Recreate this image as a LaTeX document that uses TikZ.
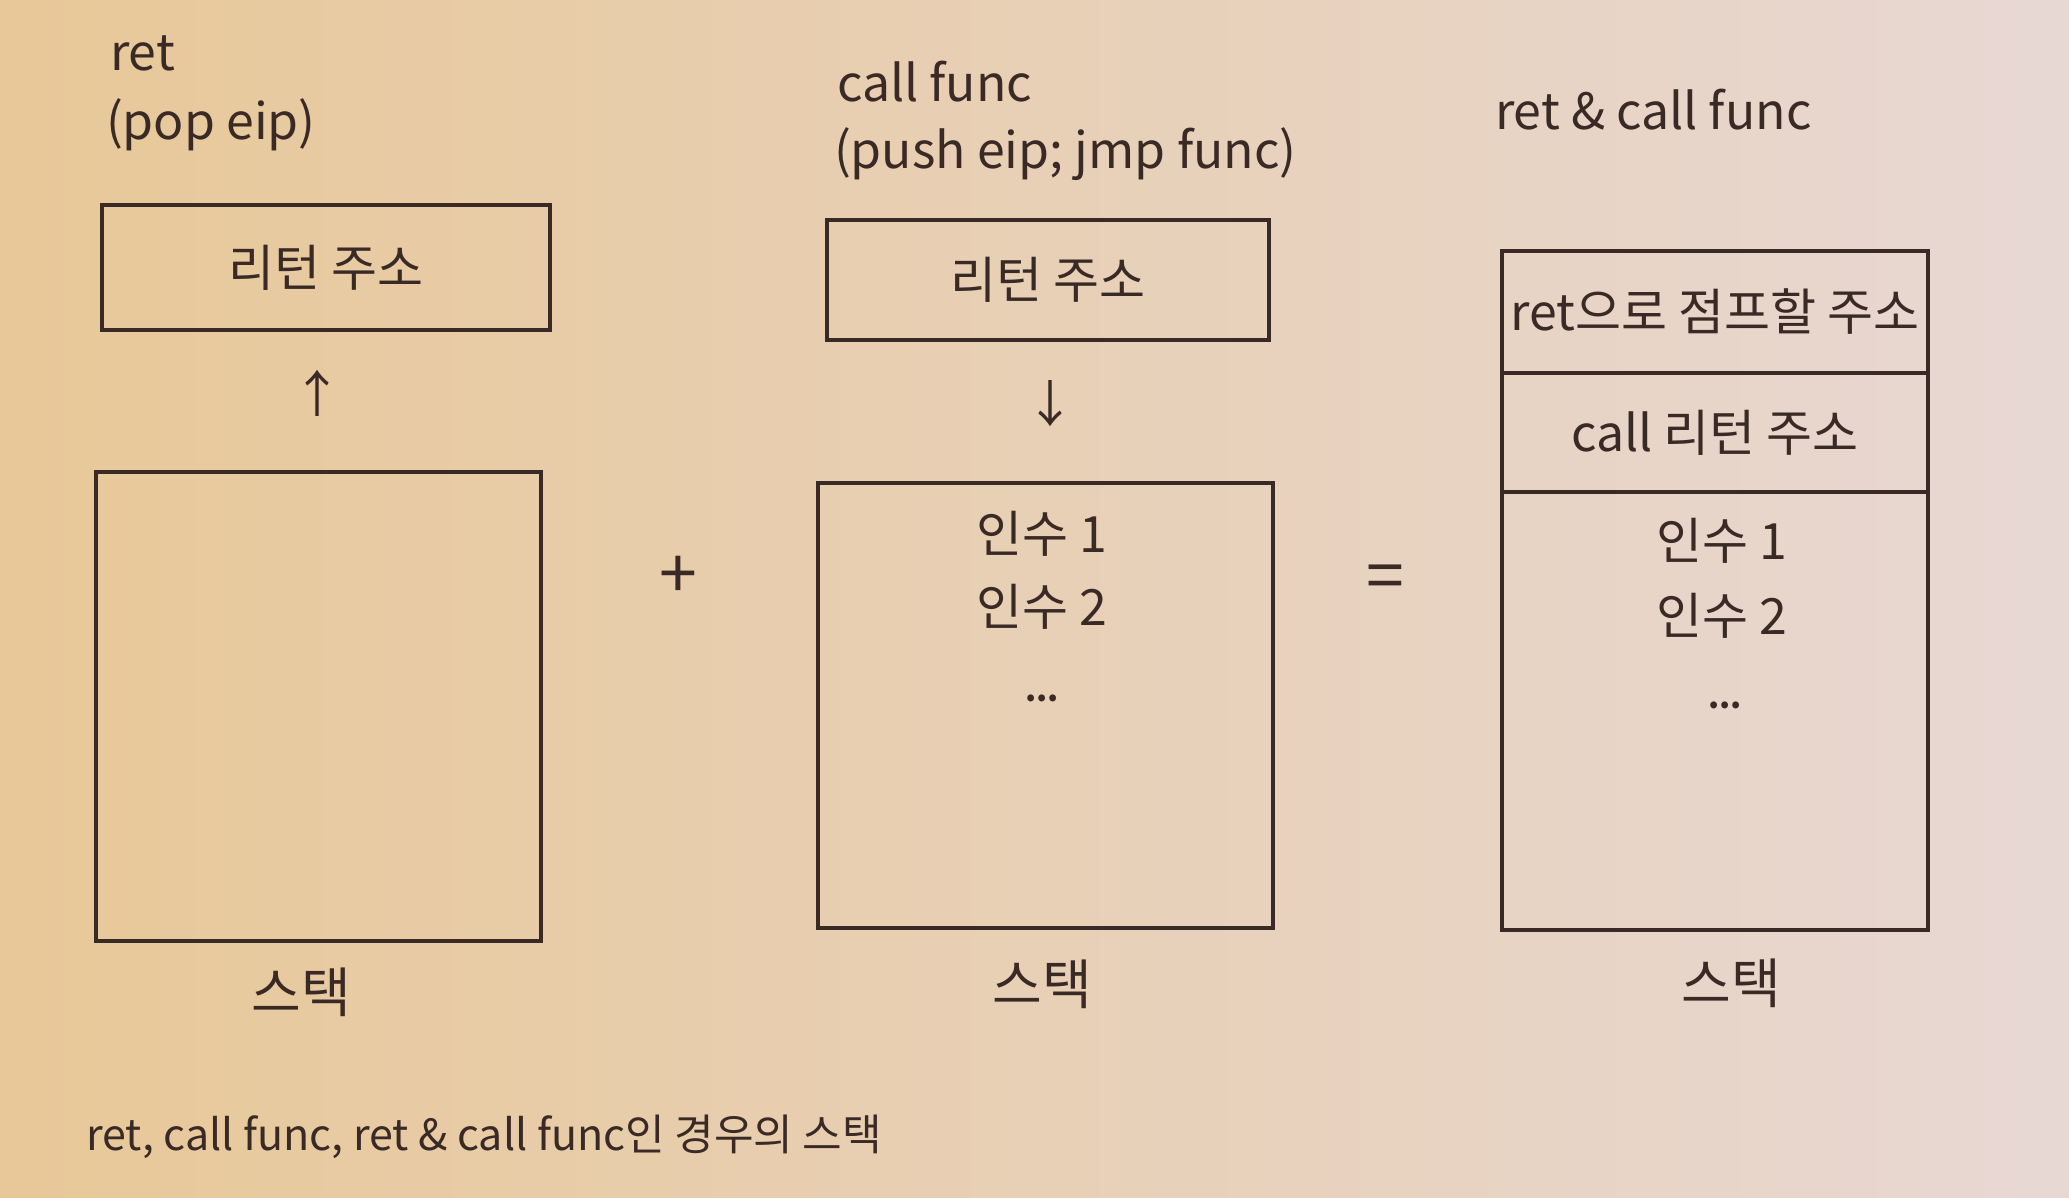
\documentclass[tikz,border=0pt]{standalone}
\usepackage{fontspec}
\setmainfont{Noto Sans CJK KR}
\usetikzlibrary{positioning}

\definecolor{c3a2a26}{RGB}{58,42,38}
\definecolor{ce8c898}{RGB}{232,200,152}
\definecolor{cf0dccd}{RGB}{240,222,208}
\definecolor{ce6d6d4}{RGB}{232,216,212}

\begin{document}
\begin{tikzpicture}[y=-1pt, x=1pt, inner sep=0pt, outer sep=0pt,
  cell/.style={draw=c3a2a26, line width=1.8pt, text=c3a2a26,
    font=\fontsize{25}{30}\selectfont},
  lbl/.style={text=c3a2a26, font=\fontsize{25}{30}\selectfont},
  head/.style={lbl, anchor=west},
  op/.style={text=c3a2a26, font=\fontsize{34}{40}\selectfont},
  stacklbl/.style={text=c3a2a26, font=\fontsize{27}{32}\selectfont}]

  \useasboundingbox (0,0) rectangle (1034.5,599);
  \shade[left color=ce8c898, middle color=cf0dccd, right color=ce6d6d4]
    (0,0) rectangle (1034.5,599);

  % ret
  \node[head] (hret) at (55,26.5) {ret};
  \node[head] (hpop) at (53,62.5) {(pop eip)};
  \node[cell, minimum width=224pt, minimum height=62.5pt] (retaddr)
    at (163,133.75) {리턴 주소};
  \node[lbl] (uparrow) at (158.5,196.5) {↑};
  \node[cell, minimum width=222.5pt, minimum height=234.5pt] (stackA)
    at (159.25,353.25) {};
  \node[stacklbl] (stackAlbl) at (150.5,496) {스택};

  \node[op] (plus) at (339,288.5) {+};

  % call func
  \node[head] (hcall) at (418.5,41) {call func};
  \node[head] (hpush) at (417,77) {(push eip; jmp func)};
  \node[cell, minimum width=221pt, minimum height=60pt] (calladdr)
    at (524,140) {리턴 주소};
  \node[lbl] (downarrow) at (525,202) {↓};
  \node[cell, minimum width=227.5pt, minimum height=222.5pt] (stackB)
    at (522.75,352.75) {};
  \node[lbl] (argBa) at (521,267) {인수 1};
  \node[lbl] (argBb) at (521,303.5) {인수 2};
  \node[lbl, font=\bfseries\fontsize{16}{20}\selectfont] (dotsB) at (521,349) {...};
  \node[stacklbl] (stackBlbl) at (521,492) {스택};

  \node[op] (equals) at (692.5,291.5) {=};

  % ret & call func
  \node[head] (hboth) at (747.5,55) {ret \& call func};
  \node[cell, minimum width=213pt, minimum height=61pt] (jumpaddr)
    at (857.5,156) {ret으로 점프할 주소};
  \node[cell, minimum width=213pt, minimum height=59.5pt, below=0pt of jumpaddr]
    (callret) {call 리턴 주소};
  \node[cell, minimum width=213pt, minimum height=219pt, below=0pt of callret]
    (stackC) {};
  \node[lbl] (argCa) at (861,270.5) {인수 1};
  \node[lbl] (argCb) at (861,308) {인수 2};
  \node[lbl, font=\bfseries\fontsize{16}{20}\selectfont] (dotsC) at (862.5,352.5) {...};
  \node[stacklbl] (stackClbl) at (865.5,491.5) {스택};

  % caption
  \node[lbl, anchor=west, font=\fontsize{21.5}{26}\selectfont] (caption)
    at (43,568.5) {ret, call func, ret \& call func인 경우의 스택};

\end{tikzpicture}
\end{document}
